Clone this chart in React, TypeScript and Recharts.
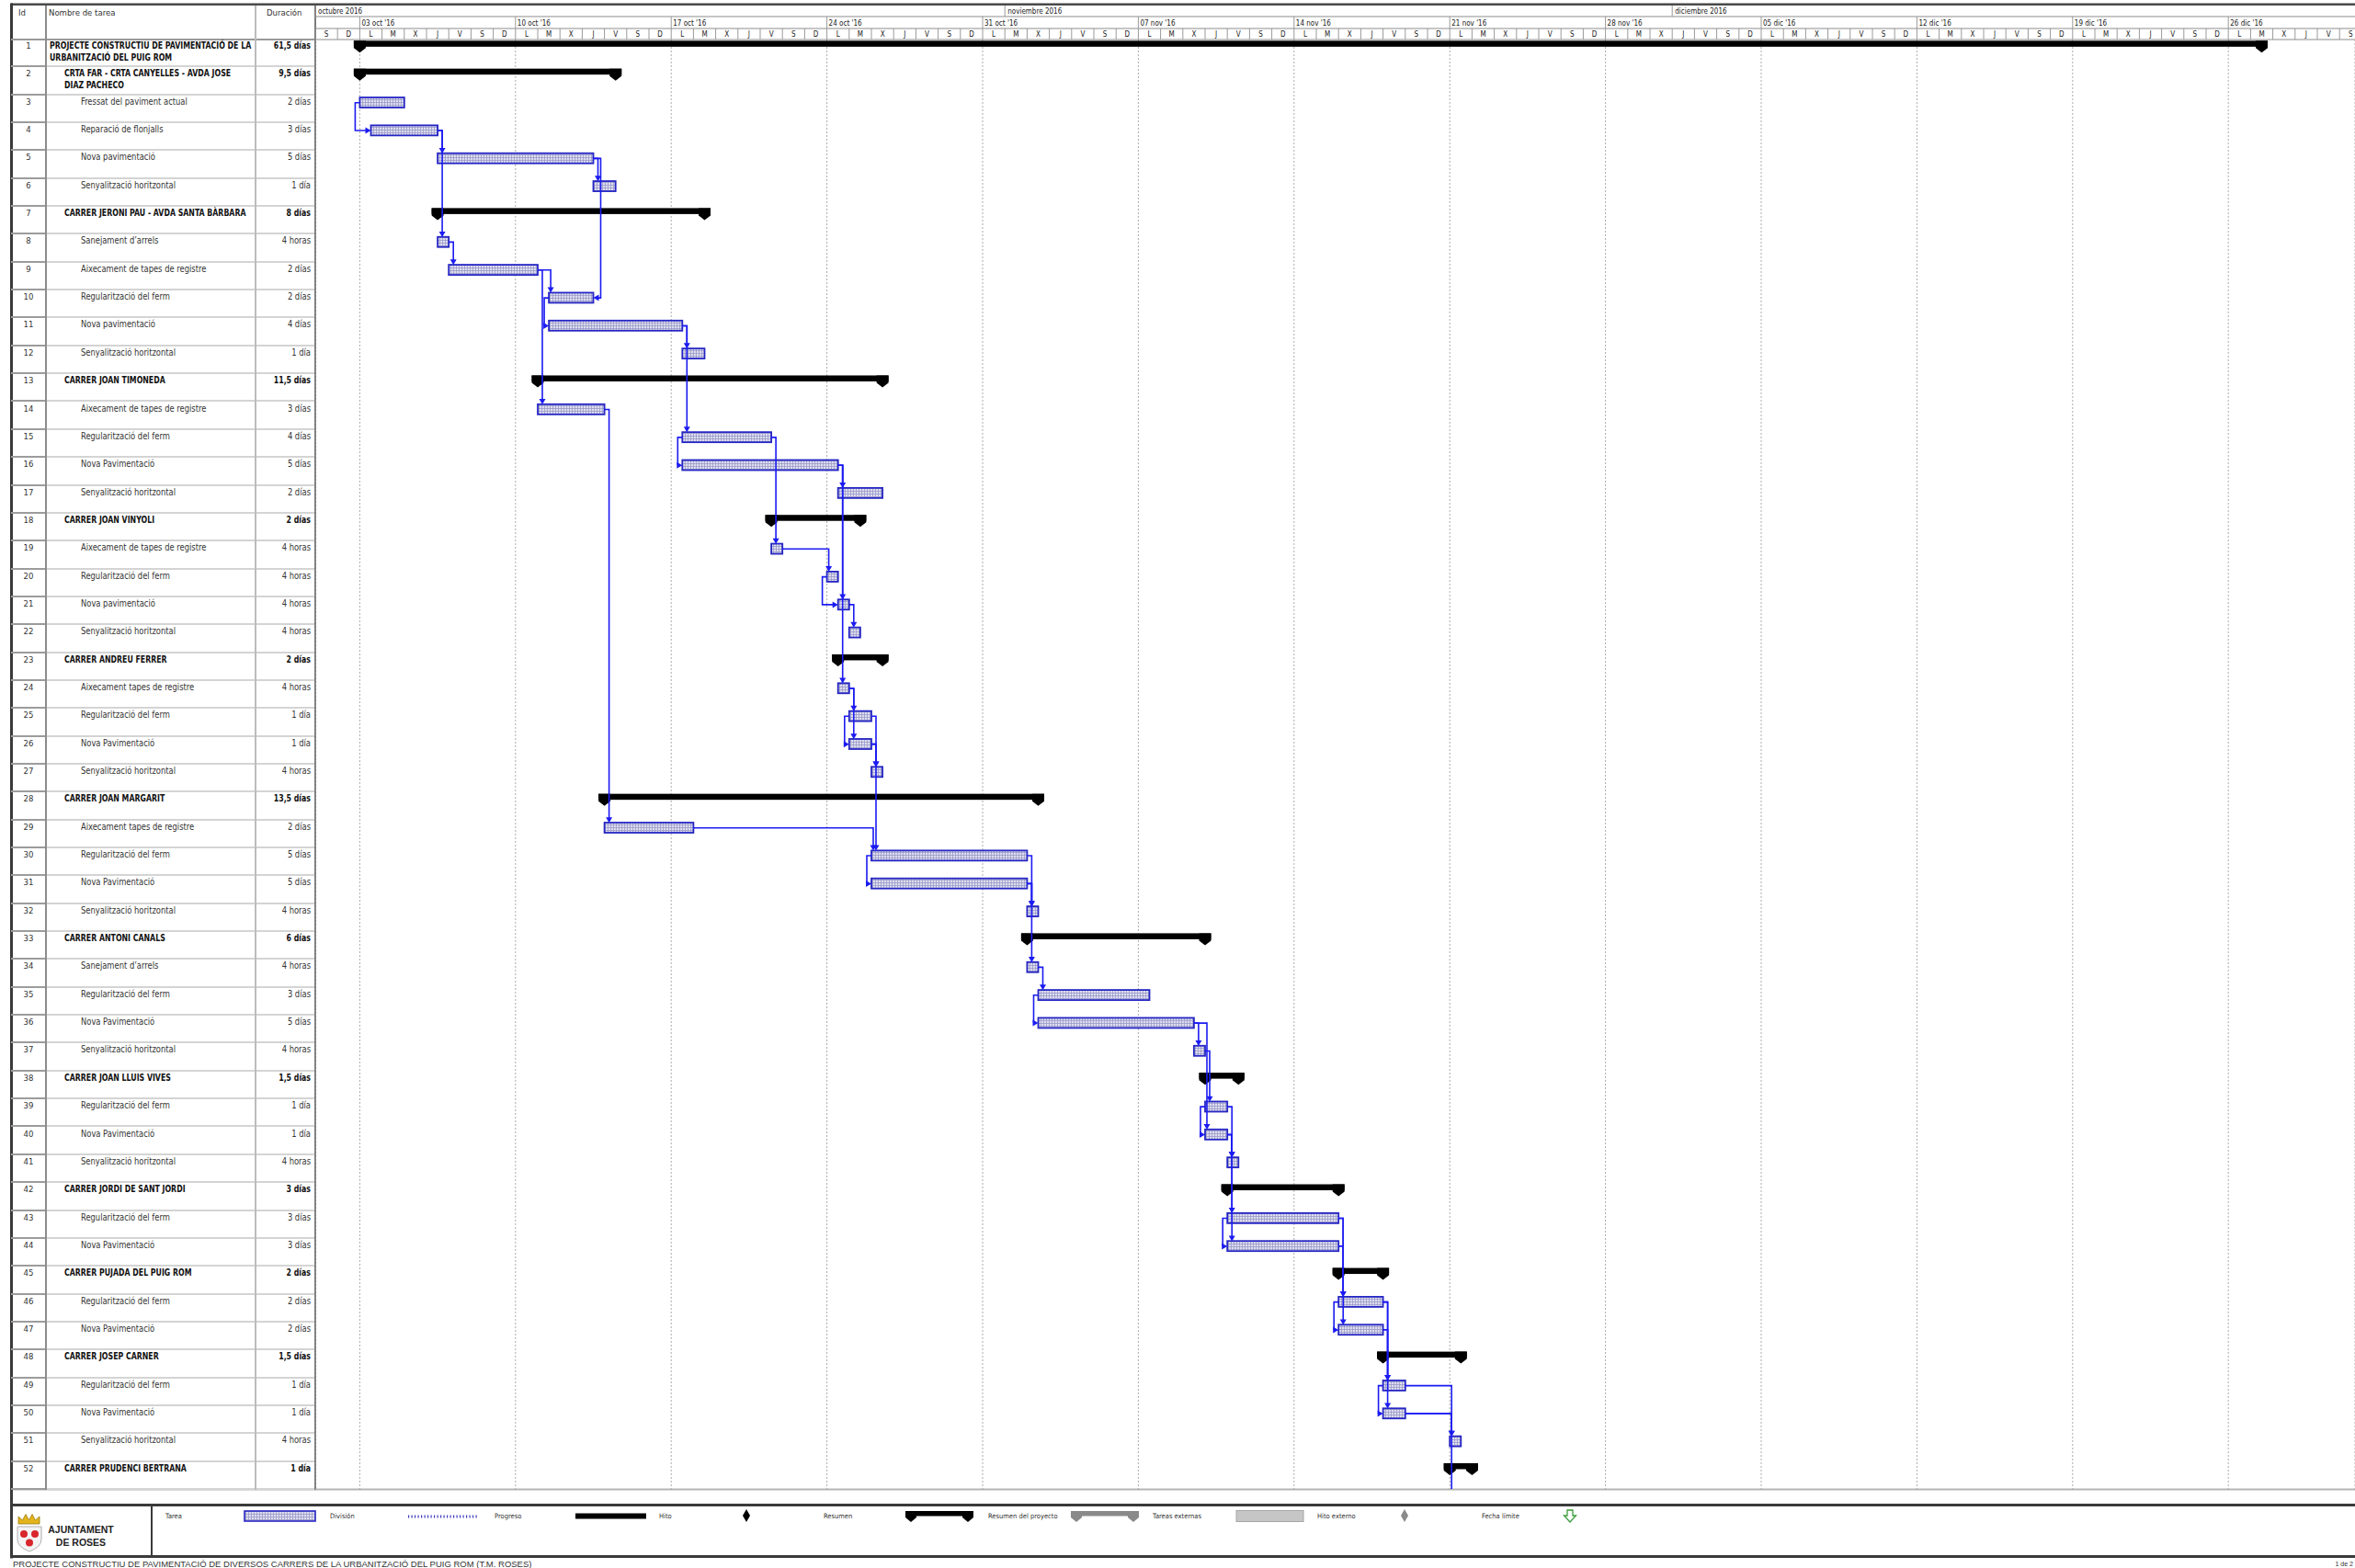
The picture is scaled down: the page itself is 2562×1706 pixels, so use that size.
import React from 'react'
import { ComposedChart, Bar, XAxis, YAxis, CartesianGrid, ReferenceLine } from 'recharts'

// ---- task table ----
const taskNames = [
  'PROJECTE CONSTRUCTIU DE PAVIMENTACIÓ DE LA URBANITZACIÓ DEL PUIG ROM',
  'CRTA FAR - CRTA CANYELLES - AVDA JOSE DIAZ PACHECO',
  'Fressat del paviment actual',
  'Reparació de flonjalls',
  'Nova pavimentació',
  'Senyalització horitzontal',
  'CARRER JERONI PAU - AVDA SANTA BÀRBARA',
  'Sanejament d’arrels',
  'Aixecament de tapes de registre',
  'Regularització del ferm',
  'Nova pavimentació',
  'Senyalització horitzontal',
  'CARRER JOAN TIMONEDA',
  'Aixecament de tapes de registre',
  'Regularització del ferm',
  'Nova Pavimentació',
  'Senyalització horitzontal',
  'CARRER JOAN VINYOLI',
  'Aixecament de tapes de registre',
  'Regularització del ferm',
  'Nova pavimentació',
  'Senyalització horitzontal',
  'CARRER ANDREU FERRER',
  'Aixecament tapes de registre',
  'Regularització del ferm',
  'Nova Pavimentació',
  'Senyalització horitzontal',
  'CARRER JOAN MARGARIT',
  'Aixecament tapes de registre',
  'Regularització del ferm',
  'Nova Pavimentació',
  'Senyalització horitzontal',
  'CARRER ANTONI CANALS',
  'Sanejament d’arrels',
  'Regularització del ferm',
  'Nova Pavimentació',
  'Senyalització horitzontal',
  'CARRER JOAN LLUIS VIVES',
  'Regularització del ferm',
  'Nova Pavimentació',
  'Senyalització horitzontal',
  'CARRER JORDI DE SANT JORDI',
  'Regularització del ferm',
  'Nova Pavimentació',
  'CARRER PUJADA DEL PUIG ROM',
  'Regularització del ferm',
  'Nova Pavimentació',
  'CARRER JOSEP CARNER',
  'Regularització del ferm',
  'Nova Pavimentació',
  'Senyalització horitzontal',
  'CARRER PRUDENCI BERTRANA',
]

const durations = [
  '61,5 días', '9,5 días', '2 días', '3 días', '5 días', '1 día', '8 días', '4 horas', '2 días', '2 días',
  '4 días', '1 día', '11,5 días', '3 días', '4 días', '5 días', '2 días', '2 días', '4 horas', '4 horas',
  '4 horas', '4 horas', '2 días', '4 horas', '1 día', '1 día', '4 horas', '13,5 días', '2 días', '5 días',
  '5 días', '4 horas', '6 días', '4 horas', '3 días', '5 días', '4 horas', '1,5 días', '1 día', '1 día',
  '4 horas', '3 días', '3 días', '3 días', '2 días', '2 días', '2 días', '1,5 días', '1 día', '1 día',
  '4 horas', '1 día',
]

// 0 = project summary, 1 = summary, 2 = task
const levels = [
  0, 1, 2, 2, 2, 2, 1, 2, 2, 2, 2, 2, 1, 2, 2, 2, 2, 1, 2, 2, 2, 2, 1, 2, 2, 2,
  2, 1, 2, 2, 2, 2, 1, 2, 2, 2, 2, 1, 2, 2, 2, 1, 2, 2, 1, 2, 2, 1, 2, 2, 2, 1,
]

// days counted from sat 01 oct 2016 (half day = 0.5)
const starts = [
  2, 2, 2, 2.5, 5.5, 12.5, 5.5, 5.5, 6, 10.5, 10.5, 16.5, 10, 10, 16.5, 16.5, 23.5, 20.5, 20.5, 23,
  23.5, 24, 23.5, 23.5, 24, 24, 25, 13, 13, 25, 25, 32, 32, 32, 32.5, 32.5, 39.5, 40, 40, 40,
  41, 41, 41, 41, 46, 46, 46, 48, 48, 48, 51, 51,
]
const ends = [
  87.5, 13.5, 4, 5.5, 12.5, 13.5, 17.5, 6, 10, 12.5, 16.5, 17.5, 25.5, 13, 20.5, 23.5, 25.5, 24.5, 21, 23.5,
  24, 24.5, 25.5, 24, 25, 25, 25.5, 32.5, 17, 32, 32, 32.5, 40, 32.5, 37.5, 39.5, 40, 41.5, 41, 41,
  41.5, 46, 46, 46, 48, 48, 48, 51.5, 49, 49, 51.5, 52,
]

// [predecessor, successor, type]
const links: [number, number, string][] = [
  [3, 4, 'SS'], [4, 5, 'FS'], [4, 8, 'FS'], [5, 6, 'FS'], [5, 10, 'FF'], [8, 9, 'FS'], [9, 10, 'FS'],
  [9, 14, 'FS'], [10, 11, 'SS'], [11, 12, 'FS'], [11, 15, 'FS'], [15, 16, 'SS'], [14, 29, 'FS'],
  [15, 19, 'FS'], [16, 17, 'FS'], [16, 21, 'FS'], [16, 24, 'FS'], [19, 20, 'FS'], [20, 21, 'SS'],
  [21, 22, 'FS'], [24, 25, 'FS'], [24, 26, 'FS'], [25, 26, 'SS'], [25, 27, 'FS'], [26, 27, 'FS'],
  [29, 30, 'FS'], [26, 30, 'FS'], [30, 31, 'SS'], [30, 32, 'FS'], [31, 32, 'FS'], [31, 34, 'FS'],
  [34, 35, 'FS'], [35, 36, 'SS'], [36, 37, 'FS'], [37, 39, 'FS'], [36, 40, 'FS'], [39, 40, 'SS'],
  [39, 41, 'FS'], [40, 41, 'FS'], [40, 43, 'FS'], [43, 44, 'SS'], [40, 44, 'FS'], [43, 46, 'FS'],
  [44, 46, 'FS'], [46, 47, 'SS'], [43, 47, 'FS'], [46, 49, 'FS'], [47, 49, 'FS'], [49, 50, 'SS'],
  [46, 50, 'FS'], [49, 51, 'FS'], [50, 51, 'FS'], [50, 52, 'FSX'],
]

// ---- timescale ----
const dayLetters = ['S', 'D', 'L', 'M', 'X', 'J', 'V']
const weekStarts = [2, 9, 16, 23, 30, 37, 44, 51, 58, 65, 72, 79, 86]
const weekLabels = [
  "03 oct '16", "10 oct '16", "17 oct '16", "24 oct '16", "31 oct '16", "07 nov '16", "14 nov '16",
  "21 nov '16", "28 nov '16", "05 dic '16", "12 dic '16", "19 dic '16", "26 dic '16",
]
const monthStarts = [0, 31, 61]
const monthLabels = ['octubre 2016', 'noviembre 2016', 'diciembre 2016']

const legendLabels = [
  'Tarea', 'División', 'Progreso', 'Hito', 'Resumen', 'Resumen del proyecto', 'Tareas externas',
  'Hito externo', 'Fecha límite',
]

const FONT = '"Liberation Sans Narrow", "Arial Narrow", "DejaVu Sans Condensed", sans-serif'
const ARIAL = '"Liberation Sans", Arial, sans-serif'
const ROW_TOP = 43
const ROW_H = 1578 / 52
const DAY_W = 24.2
const PLOT_W = 2219
const DMAX = PLOT_W / DAY_W
const HEAD_H = 37
const BLUE = '#1b1bf2'
const S_BOLD = 0.87
const S_NORM = 0.93
const dayTicks = Array.from({ length: Math.ceil(DMAX) }, (_, d) => d)

const rows = taskNames.map((name, i) => ({
  id: i + 1,
  name,
  level: levels[i],
  span: [starts[i], ends[i]],
}))

function GanttBar(props: any) {
  const { x, y, width, height, payload } = props
  const top = y + height / 2 - ROW_H / 2
  const x0 = x
  const x1 = x + width
  if (payload.level < 2) {
    const t = top + 1.5
    const b = top + 8
    const cap = (cx: number) =>
      `${cx - 6.5},${t} ${cx + 6.5},${t} ${cx + 6.5},${b + 1.5} ${cx},${top + 14.5} ${cx - 6.5},${b + 1.5}`
    return (
      <g>
        <rect x={x0 - 6.5} y={t} width={x1 - x0 + 13} height={b - t} fill="#000" />
        <polygon points={cap(x0)} fill="#000" />
        <polygon points={cap(x1)} fill="#000" />
      </g>
    )
  }
  return (
    <rect x={x0} y={top + 2.5} width={Math.max(x1 - x0, 2)} height={11}
      fill="url(#ganttHatch)" stroke="#2626c4" strokeWidth={1.8} />
  )
}

const BAR_MID = ROW_H / 2 - 8
const BAR_TOP = ROW_H / 2 - 2.5

function linkShape(type: string) {
  return (p: any) => {
    const { x1, y1, x2, y2 } = p
    const a = y1 - BAR_MID
    const b = y2 - BAR_MID
    const top2 = y2 - BAR_TOP
    let d = ''
    let head = ''
    if (type === 'FS' || type === 'FSX') {
      const xv = Math.max(x1 + 5, x2 + 2)
      if (type === 'FSX') {
        d = `M${x1},${a}H${xv}V${y2 + ROW_H / 2 - 1}`
      } else {
        d = `M${x1},${a}H${xv}V${top2 - 5}`
        head = `${xv - 3.5},${top2 - 6} ${xv + 3.5},${top2 - 6} ${xv},${top2}`
      }
    } else if (type === 'SS') {
      const xl = Math.min(x1, x2) - 5
      d = `M${x1},${a}H${xl}V${b}H${x2 - 5}`
      head = `${x2 - 6},${b - 3.5} ${x2 - 6},${b + 3.5} ${x2},${b}`
    } else {
      const xr = Math.max(x1, x2) + 8
      d = `M${x1},${a}H${xr}V${b}H${x2 + 5}`
      head = `${x2 + 6},${b - 3.5} ${x2 + 6},${b + 3.5} ${x2},${b}`
    }
    return (
      <g>
        <path d={d} fill="none" stroke={BLUE} strokeWidth={1.6} />
        {head && <polygon points={head} fill={BLUE} />}
      </g>
    )
  }
}

const DayTick = ({ x, y, payload }: any) => (
  <g>
    <line x1={x} x2={x} y1={y - 12} y2={y} stroke="#9a9a9a" />
    <text x={x + DAY_W / 2} y={y - 3} textAnchor="middle" fontSize={8} fill="#222" fontFamily={FONT}>
      {dayLetters[payload.value % 7]}
    </text>
  </g>
)

const WeekTick = ({ x, y, payload }: any) => (
  <g>
    <line x1={x} x2={x} y1={y - 13} y2={y} stroke="#9a9a9a" />
    <text x={x + 2} y={y - 3.5} fontSize={8} fill="#222" fontFamily={FONT}>
      {weekLabels[weekStarts.indexOf(payload.value)]}
    </text>
  </g>
)

const MonthTick = ({ x, y, payload }: any) => (
  <g>
    <line x1={x} x2={x} y1={y - 12} y2={y} stroke="#9a9a9a" />
    <text x={x + 3} y={y - 3} fontSize={8} fill="#222" fontFamily={FONT}>
      {monthLabels[monthStarts.indexOf(payload.value)]}
    </text>
  </g>
)

function SummaryShape({ x0, x1, y, color }: { x0: number; x1: number; y: number; color: string }) {
  const cap = (cx: number) =>
    `${cx - 6},${y} ${cx + 6},${y} ${cx + 6},${y + 7} ${cx},${y + 12} ${cx - 6},${y + 7}`
  return (
    <g fill={color}>
      <rect x={x0 - 6} y={y} width={x1 - x0 + 12} height={5.5} />
      <polygon points={cap(x0)} />
      <polygon points={cap(x1)} />
    </g>
  )
}

function Legend() {
  const ly = 1652
  const lx = (i: number) => 180 + i * 179
  return (
    <g fontFamily={FONT} fontSize={7.5} fill="#333">
      {legendLabels.map((l, i) => (
        <text key={l} x={lx(i)} y={ly}>{l}</text>
      ))}
      <rect x={266} y={1644} width={77} height={11} fill="url(#ganttHatch)" stroke="#2626c4" strokeWidth={1.6} />
      {Array.from({ length: 22 }, (_, k) => (
        <rect key={k} x={444 + k * 3.5} y={1648.5} width={1.2} height={3} fill="#3a3ac0" />
      ))}
      <rect x={626} y={1646.5} width={77} height={6} fill="#000" />
      <polygon points="812,1642 816,1649 812,1656 808,1649" fill="#000" />
      <SummaryShape x0={991} x1={1053} y={1644} color="#000" />
      <SummaryShape x0={1171} x1={1233} y={1644} color="#8a8a8a" />
      <rect x={1345} y={1643.5} width={73} height={12} fill="#c6c6c6" stroke="#a6a6a6" />
      <polygon points="1528,1642 1532,1649 1528,1656 1524,1649" fill="#8a8a8a" />
      <polygon points="1705,1643 1711,1643 1711,1649 1714.5,1649 1708,1656 1701.5,1649 1705,1649"
        fill="#fff" stroke="#3c9c3c" strokeWidth={1.3} />
    </g>
  )
}

function Frame() {
  return (
    <svg width={2562} height={1706} style={{ position: 'absolute', left: 0, top: 0 }}>
      <rect x={12} y={3.5} width={2550} height={2.5} fill="#4a4a4a" />
      <rect x={12} y={1619.5} width={2550} height={2} fill="#b4b4b4" />
      <rect x={12} y={1636} width={2550} height={3} fill="#3a3a3a" />
      <rect x={12} y={1692} width={2550} height={3} fill="#3a3a3a" />
      <rect x={11} y={3.5} width={3} height={1692} fill="#3a3a3a" />
      <rect x={164} y={1636} width={2} height={58} fill="#3a3a3a" />
      {/* coat of arms */}
      <polygon points="20,1658 20,1650 24.5,1654 28,1647.5 31.5,1654 35,1647.5 38.5,1654 43,1650 43,1658"
        fill="#e4b41c" stroke="#9a7a10" strokeWidth={0.8} />
      <path d="M19,1661 H45 V1675 Q45,1683 32,1688 Q19,1683 19,1675 Z" fill="#f4f4f4" stroke="#b0b0b0" />
      <circle cx={26} cy={1669} r={4} fill="#d8262c" />
      <circle cx={38} cy={1669} r={4} fill="#d8262c" />
      <circle cx={32} cy={1678.5} r={4} fill="#d8262c" />
      <text x={88} y={1667.5} textAnchor="middle" fontFamily={ARIAL}
        fontWeight={700} fontSize={10.5} fill="#222">AJUNTAMENT</text>
      <text x={88} y={1682} textAnchor="middle" fontFamily={ARIAL}
        fontWeight={700} fontSize={10.5} fill="#222">DE ROSES</text>
      <Legend />
      <text x={14} y={1705} fontFamily={ARIAL} fontSize={9.5} fill="#333">
        PROJECTE CONSTRUCTIU DE PAVIMENTACIÓ DE DIVERSOS CARRERS DE LA URBANITZACIÓ DEL PUIG ROM (T.M. ROSES)
      </text>
      <text x={2560} y={1704} textAnchor="end" fontFamily={ARIAL} fontSize={7} fill="#333">
        1 de 2
      </text>
    </svg>
  )
}

function TaskTable() {
  const vline = (left: number, w: number, color: string) => (
    <div style={{ position: 'absolute', left, top: 6, width: w, height: 1615, background: color }} />
  )
  const head = { position: 'absolute' as const, top: 8, fontSize: 9.5, color: '#333' }
  return (
    <div style={{ fontFamily: FONT, color: '#222' }}>
      <div style={{ ...head, left: 20 }}>Id</div>
      <div style={{ ...head, left: 53 }}>Nombre de tarea</div>
      <div style={{ ...head, left: 290 }}>Duración</div>
      <div style={{ position: 'absolute', left: 12, top: 41.5, width: 331, height: 2, background: '#9a9a9a' }} />
      {rows.map((r, i) => {
        const top = ROW_TOP + i * ROW_H
        const bold = r.level < 2
        const s = bold ? S_BOLD : S_NORM
        const indent = r.level === 0 ? 54 : r.level === 1 ? 70 : 88
        const wrapW = r.level === 0 ? 265 : r.level === 1 ? 233 : 260
        const txt = {
          position: 'absolute' as const, top: top + 1, fontSize: 10, lineHeight: '12.5px',
          fontWeight: bold ? 700 : 400, color: bold ? '#111' : '#333',
        }
        return (
          <React.Fragment key={r.id}>
            <div style={{
              position: 'absolute', left: 12, top, width: 38, height: ROW_H, boxSizing: 'border-box',
              borderBottom: '2px solid #9c9c9c', textAlign: 'center', fontSize: 9.5, paddingTop: 1, color: '#333',
            }}>{r.id}</div>
            <div style={{
              position: 'absolute', left: 50, top, width: 293, height: ROW_H, boxSizing: 'border-box',
              borderBottom: '2px solid #d4d4d4',
            }} />
            <div style={{
              ...txt, left: indent, width: wrapW, transform: `scaleX(${s})`, transformOrigin: 'left top',
            }}>{r.name}</div>
            <div style={{
              ...txt, left: 238, width: 100, textAlign: 'right', whiteSpace: 'nowrap',
              transform: `scaleX(${s})`, transformOrigin: 'right top',
            }}>{durations[i]}</div>
          </React.Fragment>
        )
      })}
      {vline(49, 2, '#8c8c8c')}
      {vline(277, 2, '#bcbcbc')}
      {vline(342, 2, '#7c7c7c')}
    </div>
  )
}

export default function App() {
  return (
    <div style={{
      position: 'absolute', left: 0, top: 0, width: 2562, height: 1706, background: '#fff', overflow: 'hidden',
    }}>
      <Frame />
      <TaskTable />
      <div style={{ position: 'absolute', left: 343, top: 6 }}>
        <ComposedChart layout="vertical" width={PLOT_W} height={HEAD_H + 1578} data={rows}
          margin={{ top: 0, right: 0, bottom: 0, left: 0 }} barCategoryGap={0}>
          <defs>
            <pattern id="ganttHatch" width="3" height="3" patternUnits="userSpaceOnUse">
              <rect width="3" height="3" fill="#dedef0" />
              <path d="M0,0.5H3M0.5,0V3" stroke="#9a9ac8" strokeWidth="0.8" />
            </pattern>
          </defs>
          {/* top axes are stacked by id: a_day next to the plot, c_month on top */}
          <XAxis xAxisId="a_day" type="number" orientation="top" domain={[0, DMAX]} allowDataOverflow
            ticks={dayTicks} interval={0} height={12} tickSize={0} tickMargin={0} tick={<DayTick />}
            axisLine={{ stroke: '#8c8c8c' }} />
          <XAxis xAxisId="b_week" type="number" orientation="top" domain={[0, DMAX]} allowDataOverflow
            ticks={weekStarts} interval={0} height={13} tickSize={0} tickMargin={0} tick={<WeekTick />}
            axisLine={{ stroke: '#8c8c8c' }} />
          <XAxis xAxisId="c_month" type="number" orientation="top" domain={[0, DMAX]} allowDataOverflow
            ticks={monthStarts} interval={0} height={12} tickSize={0} tickMargin={0} tick={<MonthTick />}
            axisLine={{ stroke: '#8c8c8c' }} />
          <YAxis type="category" dataKey="id" hide />
          <CartesianGrid xAxisId="b_week" horizontal={false} stroke="#ababab" strokeDasharray="2 2" />
          <Bar dataKey="span" xAxisId="a_day" barSize={14} shape={GanttBar} isAnimationActive={false} />
          {links.map(([from, to, type], k) => {
            const x1 = type === 'SS' ? starts[from - 1] : ends[from - 1]
            const x2 = type === 'FF' ? ends[to - 1] : starts[to - 1]
            return (
              <ReferenceLine key={k} xAxisId="a_day" ifOverflow="visible"
                segment={[{ x: x1, y: from }, { x: x2, y: to }]} shape={linkShape(type)} />
            )
          })}
        </ComposedChart>
      </div>
    </div>
  )
}
